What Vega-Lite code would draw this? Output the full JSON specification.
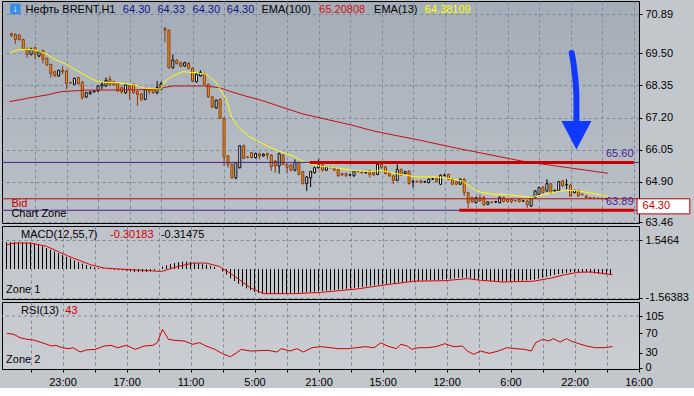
{
"$schema":"https://vega.github.io/schema/vega-lite/v6.json",
"padding":{"left":1,"top":0,"right":0,"bottom":0},
"background":"#c3c7cc",
"spacing":3,
"bounds":"flush",
"config":{"view":{"stroke":"#000","strokeWidth":1},"text":{"font":"Liberation Sans","fontSize":11},"axis":{"labelFont":"Liberation Sans","labelFontSize":11,"labelColor":"#000","tickColor":"#000","domainColor":"#000","gridColor":"#7b8a9b","gridDash":[3,3],"gridOpacity":1,"labelOverlap":false,"tickCount":100}},
"datasets":{
"candles":[
{"i":1,"o":70.20,"h":70.23,"l":70.08,"c":70.13,"m":1.44},
{"i":2,"o":70.17,"h":70.22,"l":69.82,"c":69.99,"m":1.45},
{"i":3,"o":70.15,"h":70.18,"l":69.94,"c":69.99,"m":1.45},
{"i":4,"o":69.99,"h":70.02,"l":69.62,"c":69.64,"m":1.44},
{"i":5,"o":69.64,"h":69.70,"l":69.34,"c":69.46,"m":1.43},
{"i":6,"o":69.46,"h":69.70,"l":69.42,"c":69.64,"m":1.42},
{"i":7,"o":69.70,"h":69.72,"l":69.28,"c":69.46,"m":1.40},
{"i":8,"o":69.40,"h":69.60,"l":69.36,"c":69.55,"m":1.36},
{"i":9,"o":69.60,"h":69.62,"l":69.13,"c":69.28,"m":1.31},
{"i":10,"o":69.32,"h":69.35,"l":69.05,"c":69.08,"m":1.22},
{"i":11,"o":69.10,"h":69.12,"l":68.63,"c":68.77,"m":1.13},
{"i":12,"o":68.84,"h":68.88,"l":68.66,"c":68.69,"m":1.04},
{"i":13,"o":68.69,"h":68.91,"l":68.66,"c":68.89,"m":0.95},
{"i":14,"o":68.89,"h":69.04,"l":68.75,"c":68.84,"m":0.85},
{"i":15,"o":68.87,"h":68.90,"l":68.21,"c":68.41,"m":0.76},
{"i":16,"o":68.45,"h":68.48,"l":68.40,"c":68.44,"m":0.66},
{"i":17,"o":68.39,"h":68.63,"l":68.37,"c":68.60,"m":0.57},
{"i":18,"o":68.63,"h":68.66,"l":68.38,"c":68.41,"m":0.46},
{"i":19,"o":68.47,"h":68.50,"l":67.85,"c":67.91,"m":0.38},
{"i":20,"o":67.94,"h":68.12,"l":67.90,"c":68.09,"m":0.29},
{"i":21,"o":68.05,"h":68.14,"l":68.02,"c":68.11,"m":0.21},
{"i":22,"o":68.12,"h":68.17,"l":68.10,"c":68.15,"m":0.14},
{"i":23,"o":68.15,"h":68.36,"l":68.12,"c":68.33,"m":0.09},
{"i":24,"o":68.33,"h":68.48,"l":68.21,"c":68.39,"m":0.05},
{"i":25,"o":68.33,"h":68.63,"l":68.30,"c":68.53,"m":0.03},
{"i":26,"o":68.57,"h":68.69,"l":68.36,"c":68.39,"m":0.01},
{"i":27,"o":68.48,"h":68.52,"l":68.34,"c":68.37,"m":-0.02},
{"i":28,"o":68.41,"h":68.45,"l":68.12,"c":68.15,"m":-0.04},
{"i":29,"o":68.27,"h":68.30,"l":68.05,"c":68.13,"m":-0.06},
{"i":30,"o":68.09,"h":68.40,"l":68.05,"c":68.37,"m":-0.07},
{"i":31,"o":68.33,"h":68.36,"l":67.85,"c":68.21,"m":-0.10},
{"i":32,"o":68.39,"h":68.42,"l":68.05,"c":68.09,"m":-0.13},
{"i":33,"o":68.13,"h":68.17,"l":67.62,"c":68.03,"m":-0.16},
{"i":34,"o":68.05,"h":68.08,"l":67.79,"c":67.85,"m":-0.17},
{"i":35,"o":67.85,"h":68.24,"l":67.82,"c":68.21,"m":-0.16},
{"i":36,"o":68.21,"h":68.24,"l":68.03,"c":68.15,"m":-0.16},
{"i":37,"o":68.21,"h":68.24,"l":68.05,"c":68.09,"m":-0.12},
{"i":38,"o":68.09,"h":68.51,"l":68.03,"c":68.27,"m":-0.07},
{"i":39,"o":68.21,"h":68.48,"l":68.18,"c":68.41,"m":0.0},
{"i":40,"o":70.39,"h":70.44,"l":69.88,"c":70.32,"m":0.14},
{"i":41,"o":70.32,"h":70.35,"l":68.95,"c":68.98,"m":0.20},
{"i":42,"o":68.98,"h":69.46,"l":68.95,"c":69.25,"m":0.27},
{"i":43,"o":69.25,"h":69.28,"l":69.10,"c":69.13,"m":0.32},
{"i":44,"o":69.16,"h":69.20,"l":69.00,"c":69.04,"m":0.36},
{"i":45,"o":69.04,"h":69.20,"l":69.01,"c":69.16,"m":0.39},
{"i":46,"o":69.14,"h":69.18,"l":68.93,"c":68.96,"m":0.40},
{"i":47,"o":68.96,"h":69.00,"l":68.48,"c":68.51,"m":0.38},
{"i":48,"o":68.48,"h":68.80,"l":68.45,"c":68.75,"m":0.34},
{"i":49,"o":68.69,"h":68.89,"l":68.66,"c":68.81,"m":0.30},
{"i":50,"o":68.77,"h":68.80,"l":68.36,"c":68.39,"m":0.26},
{"i":51,"o":68.39,"h":68.42,"l":67.90,"c":67.94,"m":0.23},
{"i":52,"o":67.94,"h":67.97,"l":67.54,"c":67.58,"m":0.17},
{"i":53,"o":67.55,"h":67.85,"l":67.50,"c":67.82,"m":0.11},
{"i":54,"o":67.85,"h":67.90,"l":67.15,"c":67.18,"m":0.0},
{"i":55,"o":67.18,"h":67.20,"l":65.47,"c":65.79,"m":-0.13},
{"i":56,"o":65.83,"h":65.86,"l":65.41,"c":65.53,"m":-0.30},
{"i":57,"o":65.53,"h":65.56,"l":65.01,"c":65.05,"m":-0.50},
{"i":58,"o":65.05,"h":65.62,"l":64.99,"c":65.59,"m":-0.65},
{"i":59,"o":65.41,"h":66.22,"l":65.38,"c":66.19,"m":-0.80},
{"i":60,"o":66.19,"h":66.24,"l":65.71,"c":65.75,"m":-0.93},
{"i":61,"o":65.79,"h":65.83,"l":65.74,"c":65.78,"m":-1.05},
{"i":62,"o":65.95,"h":65.98,"l":65.74,"c":65.77,"m":-1.15},
{"i":63,"o":65.77,"h":65.95,"l":65.74,"c":65.91,"m":-1.23},
{"i":64,"o":65.91,"h":65.94,"l":65.71,"c":65.83,"m":-1.29},
{"i":65,"o":65.83,"h":65.92,"l":65.80,"c":65.89,"m":-1.32},
{"i":66,"o":65.91,"h":65.95,"l":65.71,"c":65.86,"m":-1.34},
{"i":67,"o":65.86,"h":65.89,"l":65.29,"c":65.44,"m":-1.34},
{"i":68,"o":65.65,"h":65.68,"l":65.23,"c":65.47,"m":-1.34},
{"i":69,"o":65.47,"h":65.95,"l":65.20,"c":65.91,"m":-1.33},
{"i":70,"o":65.86,"h":65.90,"l":65.50,"c":65.53,"m":-1.33},
{"i":71,"o":65.53,"h":65.56,"l":65.20,"c":65.41,"m":-1.32},
{"i":72,"o":65.51,"h":65.54,"l":65.28,"c":65.32,"m":-1.31},
{"i":73,"o":65.32,"h":65.71,"l":65.28,"c":65.59,"m":-1.30},
{"i":74,"o":65.59,"h":65.62,"l":65.14,"c":65.17,"m":-1.29},
{"i":75,"o":65.27,"h":65.30,"l":64.81,"c":64.84,"m":-1.28},
{"i":76,"o":64.84,"h":65.11,"l":64.58,"c":65.08,"m":-1.26},
{"i":77,"o":65.05,"h":65.30,"l":64.72,"c":65.27,"m":-1.24},
{"i":78,"o":65.23,"h":65.45,"l":65.20,"c":65.41,"m":-1.22},
{"i":79,"o":65.41,"h":65.71,"l":65.38,"c":65.51,"m":-1.20},
{"i":80,"o":65.51,"h":65.56,"l":65.28,"c":65.32,"m":-1.19},
{"i":81,"o":65.32,"h":65.47,"l":65.29,"c":65.44,"m":-1.17},
{"i":82,"o":65.42,"h":65.45,"l":65.38,"c":65.41,"m":-1.15},
{"i":83,"o":65.41,"h":65.44,"l":65.29,"c":65.32,"m":-1.13},
{"i":84,"o":65.35,"h":65.38,"l":65.09,"c":65.12,"m":-1.11},
{"i":85,"o":65.20,"h":65.23,"l":65.12,"c":65.15,"m":-1.09},
{"i":86,"o":65.20,"h":65.23,"l":65.09,"c":65.12,"m":-1.07},
{"i":87,"o":65.15,"h":65.19,"l":65.12,"c":65.16,"m":-1.05},
{"i":88,"o":65.12,"h":65.33,"l":65.09,"c":65.29,"m":-1.03},
{"i":89,"o":65.28,"h":65.31,"l":65.24,"c":65.27,"m":-1.00},
{"i":90,"o":65.26,"h":65.28,"l":65.20,"c":65.23,"m":-0.97},
{"i":91,"o":65.23,"h":65.27,"l":65.20,"c":65.24,"m":-0.94},
{"i":92,"o":65.29,"h":65.32,"l":65.05,"c":65.17,"m":-0.91},
{"i":93,"o":65.25,"h":65.28,"l":65.12,"c":65.15,"m":-0.88},
{"i":94,"o":65.17,"h":65.56,"l":65.14,"c":65.53,"m":-0.85},
{"i":95,"o":65.53,"h":65.56,"l":65.38,"c":65.41,"m":-0.83},
{"i":96,"o":65.44,"h":65.47,"l":65.17,"c":65.20,"m":-0.81},
{"i":97,"o":65.23,"h":65.26,"l":65.08,"c":65.12,"m":-0.78},
{"i":98,"o":65.12,"h":65.15,"l":64.82,"c":64.96,"m":-0.76},
{"i":99,"o":64.96,"h":65.53,"l":64.93,"c":65.35,"m":-0.73},
{"i":100,"o":65.35,"h":65.38,"l":65.12,"c":65.15,"m":-0.71},
{"i":101,"o":65.20,"h":65.30,"l":65.17,"c":65.27,"m":-0.69},
{"i":102,"o":65.29,"h":65.32,"l":64.81,"c":64.84,"m":-0.68},
{"i":103,"o":64.91,"h":64.99,"l":64.70,"c":64.92,"m":-0.67},
{"i":104,"o":64.92,"h":64.95,"l":64.88,"c":64.91,"m":-0.66},
{"i":105,"o":64.94,"h":64.97,"l":64.85,"c":64.88,"m":-0.64},
{"i":106,"o":64.90,"h":64.94,"l":64.87,"c":64.91,"m":-0.63},
{"i":107,"o":64.88,"h":65.03,"l":64.85,"c":65.00,"m":-0.62},
{"i":108,"o":65.00,"h":65.04,"l":64.97,"c":65.01,"m":-0.61},
{"i":109,"o":65.02,"h":65.05,"l":64.88,"c":64.91,"m":-0.60},
{"i":110,"o":64.82,"h":65.17,"l":64.79,"c":65.14,"m":-0.58},
{"i":111,"o":65.14,"h":65.20,"l":65.10,"c":65.15,"m":-0.56},
{"i":112,"o":65.17,"h":65.20,"l":64.97,"c":65.00,"m":-0.54},
{"i":113,"o":65.00,"h":65.03,"l":64.79,"c":64.82,"m":-0.51},
{"i":114,"o":64.91,"h":64.94,"l":64.79,"c":64.82,"m":-0.48},
{"i":115,"o":64.82,"h":65.03,"l":64.79,"c":65.00,"m":-0.46},
{"i":116,"o":65.00,"h":65.03,"l":64.40,"c":64.52,"m":-0.46},
{"i":117,"o":64.52,"h":64.55,"l":63.96,"c":64.16,"m":-0.50},
{"i":118,"o":64.34,"h":64.37,"l":64.16,"c":64.19,"m":-0.54},
{"i":119,"o":64.16,"h":64.37,"l":64.13,"c":64.34,"m":-0.58},
{"i":120,"o":64.34,"h":64.46,"l":64.19,"c":64.22,"m":-0.61},
{"i":121,"o":64.36,"h":64.39,"l":64.05,"c":64.08,"m":-0.63},
{"i":122,"o":64.10,"h":64.22,"l":64.07,"c":64.19,"m":-0.65},
{"i":123,"o":64.18,"h":64.21,"l":64.14,"c":64.17,"m":-0.66},
{"i":124,"o":64.18,"h":64.23,"l":64.15,"c":64.20,"m":-0.67},
{"i":125,"o":64.16,"h":64.39,"l":64.13,"c":64.34,"m":-0.67},
{"i":126,"o":64.34,"h":64.37,"l":64.17,"c":64.20,"m":-0.67},
{"i":127,"o":64.28,"h":64.31,"l":64.17,"c":64.20,"m":-0.66},
{"i":128,"o":64.28,"h":64.31,"l":64.14,"c":64.20,"m":-0.66},
{"i":129,"o":64.24,"h":64.26,"l":64.20,"c":64.23,"m":-0.65},
{"i":130,"o":64.28,"h":64.31,"l":64.17,"c":64.20,"m":-0.63},
{"i":131,"o":64.22,"h":64.25,"l":64.19,"c":64.22,"m":-0.61},
{"i":132,"o":64.22,"h":64.25,"l":63.98,"c":64.08,"m":-0.59},
{"i":133,"o":64.04,"h":64.37,"l":64.01,"c":64.34,"m":-0.57},
{"i":134,"o":64.34,"h":64.61,"l":64.31,"c":64.58,"m":-0.52},
{"i":135,"o":64.46,"h":64.73,"l":64.43,"c":64.70,"m":-0.47},
{"i":136,"o":64.72,"h":64.75,"l":64.49,"c":64.52,"m":-0.42},
{"i":137,"o":64.58,"h":65.00,"l":64.55,"c":64.84,"m":-0.37},
{"i":138,"o":64.84,"h":64.87,"l":64.49,"c":64.52,"m":-0.32},
{"i":139,"o":64.58,"h":64.63,"l":64.55,"c":64.60,"m":-0.28},
{"i":140,"o":64.58,"h":64.94,"l":64.55,"c":64.91,"m":-0.24},
{"i":141,"o":64.94,"h":64.97,"l":64.73,"c":64.76,"m":-0.21},
{"i":142,"o":64.80,"h":65.00,"l":64.64,"c":64.81,"m":-0.18},
{"i":143,"o":64.79,"h":64.82,"l":64.37,"c":64.40,"m":-0.17},
{"i":144,"o":64.52,"h":64.63,"l":64.49,"c":64.60,"m":-0.16},
{"i":145,"o":64.60,"h":64.63,"l":64.37,"c":64.40,"m":-0.17},
{"i":146,"o":64.46,"h":64.49,"l":64.42,"c":64.45,"m":-0.18},
{"i":147,"o":64.40,"h":64.43,"l":64.31,"c":64.34,"m":-0.21},
{"i":148,"o":64.34,"h":64.36,"l":64.31,"c":64.33,"m":-0.24},
{"i":149,"o":64.33,"h":64.35,"l":64.30,"c":64.32,"m":-0.26},
{"i":150,"o":64.32,"h":64.34,"l":64.29,"c":64.31,"m":-0.28},
{"i":151,"o":64.31,"h":64.33,"l":64.29,"c":64.30,"m":-0.29},
{"i":152,"o":64.30,"h":64.33,"l":64.30,"c":64.30,"m":-0.30}
],
"ema13":[{"i":0.75,"v":69.52},{"i":2.5,"v":69.62},{"i":5,"v":69.64},{"i":7.5,"v":69.60},{"i":10,"v":69.46},{"i":12.5,"v":69.25},{"i":15,"v":69.10},{"i":17.5,"v":68.89},{"i":20,"v":68.69},{"i":22.5,"v":68.51},{"i":25,"v":68.45},{"i":27.5,"v":68.45},{"i":30,"v":68.41},{"i":32.5,"v":68.36},{"i":35,"v":68.24},{"i":39,"v":68.22},{"i":40,"v":68.50},{"i":42,"v":68.69},{"i":44.5,"v":68.84},{"i":48,"v":68.80},{"i":50.5,"v":68.75},{"i":53,"v":68.45},{"i":55.5,"v":67.87},{"i":57,"v":67.20},{"i":58.75,"v":66.84},{"i":61.25,"v":66.54},{"i":63.75,"v":66.34},{"i":67.5,"v":66.08},{"i":72.5,"v":65.83},{"i":75.75,"v":65.59},{"i":79.25,"v":65.47},{"i":84.25,"v":65.39},{"i":87.5,"v":65.32},{"i":91.75,"v":65.27},{"i":95,"v":65.31},{"i":98.75,"v":65.20},{"i":103.75,"v":65.08},{"i":108.75,"v":65.08},{"i":113,"v":65.01},{"i":115.5,"v":64.94},{"i":118,"v":64.68},{"i":120.5,"v":64.52},{"i":123.75,"v":64.46},{"i":126.25,"v":64.46},{"i":130,"v":64.40},{"i":133.25,"v":64.34},{"i":135.75,"v":64.44},{"i":138.25,"v":64.52},{"i":141.75,"v":64.60},{"i":144.25,"v":64.60},{"i":147.5,"v":64.52},{"i":150.75,"v":64.44},{"i":152.5,"v":64.38}],
"ema100":[{"i":0.5,"v":67.77},{"i":5,"v":67.89},{"i":10,"v":68.01},{"i":13.75,"v":68.13},{"i":20,"v":68.18},{"i":32.5,"v":68.19},{"i":38.5,"v":68.21},{"i":39.6,"v":68.27},{"i":42,"v":68.33},{"i":50,"v":68.33},{"i":53.75,"v":68.27},{"i":56.25,"v":68.15},{"i":60.4,"v":67.97},{"i":63.75,"v":67.85},{"i":75,"v":67.33},{"i":87.5,"v":66.93},{"i":93,"v":66.72},{"i":105.5,"v":66.37},{"i":114,"v":66.11},{"i":130.5,"v":65.65},{"i":143,"v":65.40},{"i":152.5,"v":65.21}],
"signal":[{"i":1,"v":1.30},{"i":3,"v":1.40},{"i":7,"v":1.40},{"i":11,"v":1.22},{"i":16.6,"v":0.68},{"i":22,"v":0.23},{"i":25.4,"v":0.05},{"i":32,"v":-0.04},{"i":39.8,"v":-0.13},{"i":44,"v":0.14},{"i":47.6,"v":0.32},{"i":50.9,"v":0.32},{"i":54.2,"v":0.14},{"i":57.5,"v":-0.31},{"i":62,"v":-1.02},{"i":65.3,"v":-1.33},{"i":73,"v":-1.33},{"i":79.6,"v":-1.26},{"i":88.5,"v":-1.08},{"i":96.2,"v":-0.84},{"i":102.9,"v":-0.66},{"i":110.6,"v":-0.63},{"i":116.2,"v":-0.52},{"i":119.5,"v":-0.61},{"i":125,"v":-0.70},{"i":132.7,"v":-0.66},{"i":137.2,"v":-0.49},{"i":140.5,"v":-0.31},{"i":143.8,"v":-0.18},{"i":147.1,"v":-0.16},{"i":150.4,"v":-0.25},{"i":152.5,"v":-0.31}],
"rsi":[{"i":1.1,"v":69.9},{"i":2.8,"v":67.8},{"i":4.4,"v":61.0},{"i":6.1,"v":57.7},{"i":7.7,"v":56.3},{"i":9.4,"v":52.2},{"i":11.1,"v":47.5},{"i":12.2,"v":44.1},{"i":13.3,"v":45.5},{"i":14.9,"v":40.7},{"i":16.6,"v":38.7},{"i":17.7,"v":40.7},{"i":19.4,"v":31.9},{"i":21.0,"v":36.0},{"i":23.2,"v":37.3},{"i":25.4,"v":44.1},{"i":27.1,"v":45.5},{"i":28.8,"v":40.7},{"i":31.0,"v":45.5},{"i":33.2,"v":37.3},{"i":35.4,"v":44.1},{"i":37.6,"v":45.5},{"i":38.7,"v":50.9},{"i":40.0,"v":78.0},{"i":41.5,"v":57.7},{"i":43.1,"v":55.6},{"i":45.4,"v":54.3},{"i":47.6,"v":47.5},{"i":49.2,"v":50.9},{"i":50.9,"v":44.1},{"i":53.1,"v":37.3},{"i":55.3,"v":27.2},{"i":57.0,"v":22.4},{"i":58.6,"v":30.6},{"i":59.7,"v":37.3},{"i":61.9,"v":33.9},{"i":66.4,"v":35.3},{"i":68.6,"v":31.9},{"i":69.7,"v":38.7},{"i":71.9,"v":33.9},{"i":73.6,"v":38.7},{"i":75.2,"v":31.9},{"i":77.4,"v":40.7},{"i":79.6,"v":42.8},{"i":81.9,"v":40.7},{"i":84.1,"v":38.7},{"i":86.3,"v":38.7},{"i":88.5,"v":40.7},{"i":90.7,"v":42.8},{"i":92.9,"v":40.7},{"i":94.6,"v":50.9},{"i":96.2,"v":44.1},{"i":98.5,"v":38.7},{"i":99.6,"v":47.5},{"i":101.2,"v":44.1},{"i":102.3,"v":37.3},{"i":104.0,"v":40.7},{"i":106.2,"v":40.7},{"i":108.4,"v":42.8},{"i":110.6,"v":48.8},{"i":112.8,"v":42.8},{"i":115.0,"v":44.1},{"i":116.2,"v":33.9},{"i":117.8,"v":27.2},{"i":119.5,"v":33.9},{"i":121.7,"v":29.2},{"i":123.9,"v":33.9},{"i":126.1,"v":40.7},{"i":128.3,"v":38.7},{"i":130.5,"v":37.3},{"i":132.2,"v":33.9},{"i":133.3,"v":50.9},{"i":135.0,"v":57.7},{"i":136.6,"v":54.3},{"i":137.7,"v":59.0},{"i":139.4,"v":52.2},{"i":141.0,"v":59.0},{"i":142.1,"v":54.3},{"i":143.8,"v":49.5},{"i":146.0,"v":44.1},{"i":148.2,"v":40.7},{"i":150.4,"v":40.7},{"i":152.5,"v":43.0}],
"arrow":[{"i":143.3,"v":69.51},{"i":144.0,"v":68.87},{"i":144.5,"v":67.97},{"i":144.5,"v":67.04}]
},
"vconcat":[
{
"width":637,"height":222,
"view":{"fill":{"gradient":"linear","x1":0,"y1":0,"x2":0,"y2":1,"stops":[{"offset":0,"color":"#a4adb8"},{"offset":1,"color":"#bcc1c8"}]}},
"layer":[
{"data":{"name":"candles"},"mark":{"type":"rule","strokeWidth":1},
 "encoding":{
  "x":{"field":"i","type":"quantitative","scale":{"domain":[-0.125,159.125],"nice":false,"zero":false},"axis":{"values":[7,15,23,31,39,47,55,63,71,79,87,95,103,111,119,127,135,143,151,159],"tickCount":100,"labels":false,"ticks":false,"domain":false,"grid":true,"title":null,"minExtent":0,"maxExtent":0,"labelPadding":0,"tickSize":0}},
  "y":{"field":"l","type":"quantitative","scale":{"domain":[63.435,71.365],"nice":false,"zero":false},"axis":{"orient":"right","values":[70.89,69.5,68.35,67.2,66.05,64.9,63.46],"tickCount":100,"format":".2f","labelOverlap":false,"title":null,"grid":true,"tickSize":3,"labelPadding":3,"minExtent":56,"maxExtent":56}},
  "y2":{"field":"h"},
  "color":{"condition":{"test":"datum.c >= datum.o","value":"#000000"},"value":"#8b3a0e"}}},
{"data":{"name":"candles"},"mark":{"type":"bar","width":2,"strokeWidth":1},
 "encoding":{
  "x":{"field":"i","type":"quantitative"},
  "y":{"field":"o","type":"quantitative"},
  "y2":{"field":"c"},
  "fill":{"condition":{"test":"datum.c >= datum.o","value":"#ffffff"},"value":"#f0a020"},
  "stroke":{"condition":{"test":"datum.c >= datum.o","value":"#000000"},"value":"#8b3a0e"}}},
{"data":{"name":"ema100"},"mark":{"type":"line","color":"#c41010","strokeWidth":1},"encoding":{"x":{"field":"i","type":"quantitative"},"y":{"field":"v","type":"quantitative"}}},
{"data":{"name":"ema13"},"mark":{"type":"line","color":"#ffff00","strokeWidth":1},"encoding":{"x":{"field":"i","type":"quantitative"},"y":{"field":"v","type":"quantitative"}}},
{"data":{"values":[{}]},"mark":{"type":"rule","color":"#48208c","strokeWidth":1},"encoding":{"y":{"datum":65.60,"type":"quantitative"}}},
{"data":{"values":[{}]},"mark":{"type":"rule","color":"#48208c","strokeWidth":1},"encoding":{"y":{"datum":63.89,"type":"quantitative"}}},
{"data":{"values":[{}]},"mark":{"type":"rule","color":"#d00000","strokeWidth":1},"encoding":{"y":{"datum":64.30,"type":"quantitative"}}},
{"data":{"values":[{}]},"mark":{"type":"rule","color":"#c80000","strokeWidth":3},"encoding":{"x":{"datum":76.75,"type":"quantitative"},"x2":{"datum":159.125},"y":{"datum":65.60,"type":"quantitative"}}},
{"data":{"values":[{}]},"mark":{"type":"rule","color":"#c80000","strokeWidth":3},"encoding":{"x":{"datum":114.75,"type":"quantitative"},"x2":{"datum":159.125},"y":{"datum":63.89,"type":"quantitative"}}},
{"data":{"name":"arrow"},"mark":{"type":"line","color":"#1038ff","strokeWidth":6,"strokeCap":"round","interpolate":"monotone"},"encoding":{"x":{"field":"i","type":"quantitative"},"y":{"field":"v","type":"quantitative"}}},
{"data":{"values":[{}]},"mark":{"type":"point","shape":"M -1 -0.9 L 1 -0.9 L 0 1 Z","filled":true,"color":"#1038ff","opacity":1,"size":900},"encoding":{"x":{"datum":144.5,"type":"quantitative"},"y":{"datum":66.60,"type":"quantitative"}}},
{"data":{"values":[{}]},"mark":{"type":"point","shape":"square","filled":true,"color":"#3a8ee6","opacity":1,"size":110},"encoding":{"x":{"datum":2,"type":"quantitative"},"y":{"datum":71.08,"type":"quantitative"}}},
{"data":{"values":[{}]},"mark":{"type":"text","text":"↓","fontWeight":"bold","fontSize":10,"color":"#ffffff","align":"center","baseline":"middle"},"encoding":{"x":{"datum":2,"type":"quantitative"},"y":{"datum":71.08,"type":"quantitative"}}},
{"data":{"values":[{}]},"mark":{"type":"text","text":"Нефть BRENT,H1","align":"left","baseline":"middle","color":"#000000"},"encoding":{"x":{"datum":4.6,"type":"quantitative"},"y":{"datum":71.04,"type":"quantitative"}}},
{"data":{"values":[{}]},"mark":{"type":"text","text":"64.30","align":"left","baseline":"middle","color":"#12128c"},"encoding":{"x":{"datum":29.3,"type":"quantitative"},"y":{"datum":71.04,"type":"quantitative"}}},
{"data":{"values":[{}]},"mark":{"type":"text","text":"64.33","align":"left","baseline":"middle","color":"#12128c"},"encoding":{"x":{"datum":38.1,"type":"quantitative"},"y":{"datum":71.04,"type":"quantitative"}}},
{"data":{"values":[{}]},"mark":{"type":"text","text":"64.30","align":"left","baseline":"middle","color":"#12128c"},"encoding":{"x":{"datum":47.0,"type":"quantitative"},"y":{"datum":71.04,"type":"quantitative"}}},
{"data":{"values":[{}]},"mark":{"type":"text","text":"64.30","align":"left","baseline":"middle","color":"#12128c"},"encoding":{"x":{"datum":55.7,"type":"quantitative"},"y":{"datum":71.04,"type":"quantitative"}}},
{"data":{"values":[{}]},"mark":{"type":"text","text":"EMA(100)","align":"left","baseline":"middle","color":"#000000"},"encoding":{"x":{"datum":64.5,"type":"quantitative"},"y":{"datum":71.04,"type":"quantitative"}}},
{"data":{"values":[{}]},"mark":{"type":"text","text":"65.20808","align":"left","baseline":"middle","color":"#d01010"},"encoding":{"x":{"datum":79.2,"type":"quantitative"},"y":{"datum":71.04,"type":"quantitative"}}},
{"data":{"values":[{}]},"mark":{"type":"text","text":"EMA(13)","align":"left","baseline":"middle","color":"#000000"},"encoding":{"x":{"datum":93.1,"type":"quantitative"},"y":{"datum":71.04,"type":"quantitative"}}},
{"data":{"values":[{}]},"mark":{"type":"text","text":"64.38109","align":"left","baseline":"middle","color":"#ffff00"},"encoding":{"x":{"datum":106.0,"type":"quantitative"},"y":{"datum":71.04,"type":"quantitative"}}},
{"data":{"values":[{}]},"mark":{"type":"text","text":"65.60","align":"right","baseline":"middle","color":"#4b1f9a"},"encoding":{"x":{"datum":159,"type":"quantitative"},"y":{"datum":65.90,"type":"quantitative"}}},
{"data":{"values":[{}]},"mark":{"type":"text","text":"63.89","align":"right","baseline":"middle","color":"#4b1f9a"},"encoding":{"x":{"datum":159,"type":"quantitative"},"y":{"datum":64.20,"type":"quantitative"}}},
{"data":{"values":[{}]},"mark":{"type":"text","text":"Bid","align":"left","baseline":"middle","color":"#c00000"},"encoding":{"x":{"datum":1.0,"type":"quantitative"},"y":{"datum":64.12,"type":"quantitative"}}},
{"data":{"values":[{}]},"mark":{"type":"text","text":"Chart Zone","align":"left","baseline":"middle","color":"#000000"},"encoding":{"x":{"datum":1.0,"type":"quantitative"},"y":{"datum":63.74,"type":"quantitative"}}},
{"data":{"values":[{}]},"mark":{"type":"rect","fill":"#ffffff","stroke":"#c00000","strokeWidth":1},"encoding":{"x":{"datum":159.9,"type":"quantitative"},"x2":{"datum":173.3},"y":{"datum":64.30,"type":"quantitative"},"y2":{"datum":63.76}}},
{"data":{"values":[{}]},"mark":{"type":"text","text":"64.30","align":"left","baseline":"middle","color":"#c00000"},"encoding":{"x":{"datum":161.3,"type":"quantitative"},"y":{"datum":64.03,"type":"quantitative"}}}
]
},
{
"width":637,"height":73,
"view":{"fill":{"gradient":"linear","x1":0,"y1":0,"x2":0,"y2":1,"stops":[{"offset":0,"color":"#c0c4ca"},{"offset":1,"color":"#c6cacf"}]}},
"layer":[
{"data":{"name":"candles"},"mark":{"type":"rule","color":"#000000","strokeWidth":1},
 "encoding":{
  "x":{"field":"i","type":"quantitative","scale":{"domain":[-0.125,159.125],"nice":false,"zero":false},"axis":{"values":[7,15,23,31,39,47,55,63,71,79,87,95,103,111,119,127,135,143,151,159],"tickCount":100,"labels":false,"ticks":false,"domain":false,"grid":true,"title":null,"minExtent":0,"maxExtent":0,"labelPadding":0,"tickSize":0}},
  "y":{"field":"m","type":"quantitative","scale":{"domain":[-1.618,2.317],"nice":false,"zero":false},"axis":{"orient":"right","values":[1.5464,-1.56383],"tickCount":100,"labelExpr":"datum.value > 0 ? '1.5464' : '-1.56383'","labelOverlap":false,"title":null,"grid":true,"tickSize":3,"labelPadding":3,"minExtent":56,"maxExtent":56}},
  "y2":{"datum":0}}},
{"data":{"name":"signal"},"mark":{"type":"line","color":"#e00000","strokeWidth":1},"encoding":{"x":{"field":"i","type":"quantitative"},"y":{"field":"v","type":"quantitative"}}},
{"data":{"values":[{}]},"mark":{"type":"text","text":"MACD(12,55,7)","align":"left","baseline":"middle","color":"#000000"},"encoding":{"x":{"datum":4.65,"type":"quantitative"},"y":{"datum":1.83,"type":"quantitative"}}},
{"data":{"values":[{}]},"mark":{"type":"text","text":"-0.30183","align":"left","baseline":"middle","color":"#d00000"},"encoding":{"x":{"datum":26.9,"type":"quantitative"},"y":{"datum":1.83,"type":"quantitative"}}},
{"data":{"values":[{}]},"mark":{"type":"text","text":"-0.31475","align":"left","baseline":"middle","color":"#000000"},"encoding":{"x":{"datum":39.6,"type":"quantitative"},"y":{"datum":1.83,"type":"quantitative"}}},
{"data":{"values":[{}]},"mark":{"type":"text","text":"Zone 1","align":"left","baseline":"middle","color":"#000000"},"encoding":{"x":{"datum":0.9,"type":"quantitative"},"y":{"datum":-1.13,"type":"quantitative"}}}
]
},
{
"width":637,"height":67,
"view":{"fill":{"gradient":"linear","x1":0,"y1":0,"x2":0,"y2":1,"stops":[{"offset":0,"color":"#c5c9ce"},{"offset":1,"color":"#cacdd2"}]}},
"layer":[
{"data":{"name":"rsi"},"mark":{"type":"line","color":"#d00000","strokeWidth":1},
 "encoding":{
  "x":{"field":"i","type":"quantitative","scale":{"domain":[-0.125,159.125],"nice":false,"zero":false},"axis":{"values":[7,15,23,31,39,47,55,63,71,79,87,95,103,111,119,127,135,143,151,159],"tickCount":100,"labelExpr":"datum.value==15?'23:00':datum.value==31?'17:00':datum.value==47?'11:00':datum.value==63?'5:00':datum.value==79?'21:00':datum.value==95?'15:00':datum.value==111?'12:00':datum.value==127?'6:00':datum.value==143?'22:00':datum.value==159?'16:00':''","labelFlush":false,"labelOverlap":false,"ticks":true,"tickSize":3,"labelPadding":4,"domain":false,"grid":true,"title":null}},
  "y":{"field":"v","type":"quantitative","scale":{"domain":[-2.6,133.5],"nice":false,"zero":false},"axis":{"orient":"right","values":[105,70,30,0],"tickCount":100,"labelOverlap":false,"title":null,"grid":false,"tickSize":3,"labelPadding":3,"minExtent":56,"maxExtent":56}}}},
{"data":{"values":[{}]},"mark":{"type":"rule","color":"#7b8a9b","strokeDash":[3,3],"strokeWidth":1},"encoding":{"y":{"datum":105,"type":"quantitative"}}},
{"data":{"values":[{}]},"mark":{"type":"text","text":"RSI(13)","align":"left","baseline":"middle","color":"#000000"},"encoding":{"x":{"datum":4.65,"type":"quantitative"},"y":{"datum":115.2,"type":"quantitative"}}},
{"data":{"values":[{}]},"mark":{"type":"text","text":"43","align":"left","baseline":"middle","color":"#d00000"},"encoding":{"x":{"datum":15.7,"type":"quantitative"},"y":{"datum":115.2,"type":"quantitative"}}},
{"data":{"values":[{}]},"mark":{"type":"text","text":"Zone 2","align":"left","baseline":"middle","color":"#000000"},"encoding":{"x":{"datum":0.9,"type":"quantitative"},"y":{"datum":15.6,"type":"quantitative"}}}
]
}
]
}
